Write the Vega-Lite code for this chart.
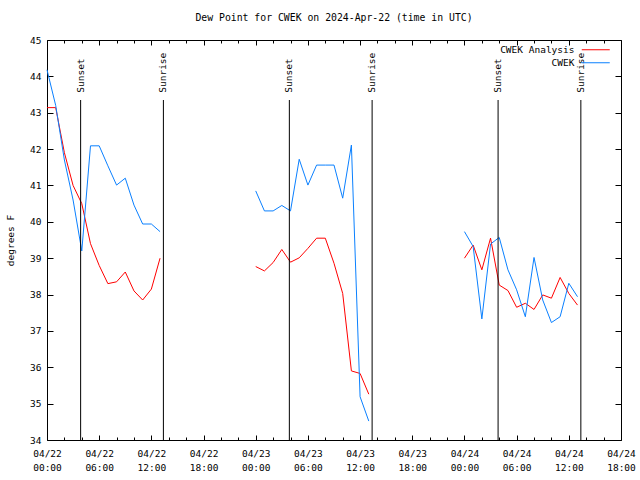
{
  "$schema": "https://vega.github.io/schema/vega-lite/v6.json",
  "width": 574,
  "height": 400,
  "autosize": {"type": "none"},
  "padding": {"left": 47, "top": 40, "right": 19, "bottom": 40},
  "title": {"text": "Dew Point for CWEK on 2024-Apr-22 (time in UTC)", "anchor": "middle", "font": "DejaVu Sans Mono", "fontSize": 9.8, "fontWeight": "normal", "color": "#000", "offset": 12},
  "config": {
    "font": "DejaVu Sans Mono",
    "view": {"stroke": "#000", "strokeWidth": 1},
    "axis": {"labelFont": "DejaVu Sans Mono", "labelFontSize": 9.5, "labelColor": "#000", "tickColor": "#000", "domain": false, "grid": false, "titleFont": "DejaVu Sans Mono", "titleFontSize": 9.5, "titleFontWeight": "normal", "titleColor": "#000"}
  },
  "datasets": {
    "obs": [
      {"t": "2024-04-22T00:00:00Z", "CWEK Analysis": 43.14, "CWEK": 44.18, "g": 1},
      {"t": "2024-04-22T01:00:00Z", "CWEK Analysis": 43.14, "CWEK": 43.2, "g": 1},
      {"t": "2024-04-22T02:00:00Z", "CWEK Analysis": 41.9, "CWEK": 41.7, "g": 1},
      {"t": "2024-04-22T03:00:00Z", "CWEK Analysis": 41.0, "CWEK": 40.6, "g": 1},
      {"t": "2024-04-22T04:00:00Z", "CWEK Analysis": 40.5, "CWEK": 39.2, "g": 1},
      {"t": "2024-04-22T05:00:00Z", "CWEK Analysis": 39.4, "CWEK": 42.09, "g": 1},
      {"t": "2024-04-22T06:00:00Z", "CWEK Analysis": 38.8, "CWEK": 42.09, "g": 1},
      {"t": "2024-04-22T07:00:00Z", "CWEK Analysis": 38.3, "CWEK": 41.54, "g": 1},
      {"t": "2024-04-22T08:00:00Z", "CWEK Analysis": 38.35, "CWEK": 41.01, "g": 1},
      {"t": "2024-04-22T09:00:00Z", "CWEK Analysis": 38.62, "CWEK": 41.2, "g": 1},
      {"t": "2024-04-22T10:00:00Z", "CWEK Analysis": 38.1, "CWEK": 40.46, "g": 1},
      {"t": "2024-04-22T11:00:00Z", "CWEK Analysis": 37.85, "CWEK": 39.94, "g": 1},
      {"t": "2024-04-22T12:00:00Z", "CWEK Analysis": 38.15, "CWEK": 39.94, "g": 1},
      {"t": "2024-04-22T13:00:00Z", "CWEK Analysis": 39.0, "CWEK": 39.73, "g": 1},
      {"t": "2024-04-23T00:00:00Z", "CWEK Analysis": 38.77, "CWEK": 40.85, "g": 2},
      {"t": "2024-04-23T01:00:00Z", "CWEK Analysis": 38.65, "CWEK": 40.3, "g": 2},
      {"t": "2024-04-23T02:00:00Z", "CWEK Analysis": 38.88, "CWEK": 40.3, "g": 2},
      {"t": "2024-04-23T03:00:00Z", "CWEK Analysis": 39.24, "CWEK": 40.45, "g": 2},
      {"t": "2024-04-23T04:00:00Z", "CWEK Analysis": 38.89, "CWEK": 40.3, "g": 2},
      {"t": "2024-04-23T05:00:00Z", "CWEK Analysis": 39.01, "CWEK": 41.72, "g": 2},
      {"t": "2024-04-23T06:00:00Z", "CWEK Analysis": 39.27, "CWEK": 41.01, "g": 2},
      {"t": "2024-04-23T07:00:00Z", "CWEK Analysis": 39.55, "CWEK": 41.56, "g": 2},
      {"t": "2024-04-23T08:00:00Z", "CWEK Analysis": 39.55, "CWEK": 41.56, "g": 2},
      {"t": "2024-04-23T09:00:00Z", "CWEK Analysis": 38.86, "CWEK": 41.56, "g": 2},
      {"t": "2024-04-23T10:00:00Z", "CWEK Analysis": 38.03, "CWEK": 40.65, "g": 2},
      {"t": "2024-04-23T11:00:00Z", "CWEK Analysis": 35.9, "CWEK": 42.11, "g": 2},
      {"t": "2024-04-23T12:00:00Z", "CWEK Analysis": 35.83, "CWEK": 35.19, "g": 2},
      {"t": "2024-04-23T13:00:00Z", "CWEK Analysis": 35.26, "CWEK": 34.52, "g": 2},
      {"t": "2024-04-24T00:00:00Z", "CWEK Analysis": 39.0, "CWEK": 39.73, "g": 3},
      {"t": "2024-04-24T01:00:00Z", "CWEK Analysis": 39.36, "CWEK": 39.32, "g": 3},
      {"t": "2024-04-24T02:00:00Z", "CWEK Analysis": 38.68, "CWEK": 37.33, "g": 3},
      {"t": "2024-04-24T03:00:00Z", "CWEK Analysis": 39.55, "CWEK": 39.39, "g": 3},
      {"t": "2024-04-24T04:00:00Z", "CWEK Analysis": 38.26, "CWEK": 39.57, "g": 3},
      {"t": "2024-04-24T05:00:00Z", "CWEK Analysis": 38.11, "CWEK": 38.68, "g": 3},
      {"t": "2024-04-24T06:00:00Z", "CWEK Analysis": 37.65, "CWEK": 38.13, "g": 3},
      {"t": "2024-04-24T07:00:00Z", "CWEK Analysis": 37.76, "CWEK": 37.39, "g": 3},
      {"t": "2024-04-24T08:00:00Z", "CWEK Analysis": 37.59, "CWEK": 39.02, "g": 3},
      {"t": "2024-04-24T09:00:00Z", "CWEK Analysis": 37.99, "CWEK": 37.85, "g": 3},
      {"t": "2024-04-24T10:00:00Z", "CWEK Analysis": 37.9, "CWEK": 37.23, "g": 3},
      {"t": "2024-04-24T11:00:00Z", "CWEK Analysis": 38.47, "CWEK": 37.39, "g": 3},
      {"t": "2024-04-24T12:00:00Z", "CWEK Analysis": 38.03, "CWEK": 38.31, "g": 3},
      {"t": "2024-04-24T13:00:00Z", "CWEK Analysis": 37.71, "CWEK": 37.94, "g": 3}
    ],
    "sun": [
      {"t": "2024-04-22T03:52:00Z", "label": "Sunset"},
      {"t": "2024-04-22T13:23:00Z", "label": "Sunrise"},
      {"t": "2024-04-23T03:52:00Z", "label": "Sunset"},
      {"t": "2024-04-23T13:23:00Z", "label": "Sunrise"},
      {"t": "2024-04-24T03:52:00Z", "label": "Sunset"},
      {"t": "2024-04-24T13:23:00Z", "label": "Sunrise"}
    ]
  },
  "resolve": {"axis": {"x": "independent", "y": "independent"}},
  "layer": [
    {
      "data": {"name": "obs"},
      "transform": [{"fold": ["CWEK Analysis", "CWEK"], "as": ["series", "v"]}],
      "mark": {"type": "line", "strokeWidth": 1},
      "encoding": {
        "x": {"field": "t", "type": "temporal",
          "scale": {"type": "utc", "nice": false, "domain": [1713744000000, 1713981600000]},
          "axis": {"orient": "bottom", "title": null,
            "values": [1713744000000, 1713751200000, 1713758400000, 1713765600000, 1713772800000, 1713780000000, 1713787200000, 1713794400000, 1713801600000, 1713808800000, 1713816000000, 1713823200000, 1713830400000, 1713837600000, 1713844800000, 1713852000000, 1713859200000, 1713866400000, 1713873600000, 1713880800000, 1713888000000, 1713895200000, 1713902400000, 1713909600000, 1713916800000, 1713924000000, 1713931200000, 1713938400000, 1713945600000, 1713952800000, 1713960000000, 1713967200000, 1713974400000, 1713981600000],
            "labelOverlap": false, "labelFlush": false,
            "labelExpr": "utchours(datum.value) % 6 === 0 ? [utcFormat(datum.value, '%m/%d'), utcFormat(datum.value, '%H:%M')] : ''",
            "tickSize": {"condition": {"test": "utchours(datum.value) % 6 === 0", "value": -5}, "value": -3},
            "labelPadding": 13, "labelBaseline": "top", "labelLineHeight": 14}},
        "y": {"field": "v", "type": "quantitative",
          "scale": {"domain": [34, 45], "nice": false, "zero": false},
          "axis": {"orient": "left", "title": "degrees F", "values": [34, 35, 36, 37, 38, 39, 40, 41, 42, 43, 44, 45], "tickSize": -6, "labelPadding": 12, "titlePadding": 14}},
        "color": {"field": "series", "type": "nominal",
          "scale": {"domain": ["CWEK Analysis", "CWEK"], "range": ["#ff0000", "#0a80ff"]},
          "legend": {"orient": "none", "legendX": 544, "legendY": 5, "title": null, "symbolType": "M-7,0H7", "symbolSize": 16, "symbolStrokeWidth": 1, "labelAlign": "right", "labelOffset": -26, "labelFont": "DejaVu Sans Mono", "labelFontSize": 9.5, "labelColor": "#000", "rowPadding": 2, "padding": 0}},
        "detail": {"field": "g", "type": "nominal"}
      }
    },
    {
      "data": {"name": "sun"},
      "mark": {"type": "rule", "color": "#000", "strokeWidth": 1},
      "encoding": {
        "x": {"field": "t", "type": "temporal", "scale": {"type": "utc"},
          "axis": {"orient": "top", "title": null, "labels": false,
            "values": [1713744000000, 1713751200000, 1713758400000, 1713765600000, 1713772800000, 1713780000000, 1713787200000, 1713794400000, 1713801600000, 1713808800000, 1713816000000, 1713823200000, 1713830400000, 1713837600000, 1713844800000, 1713852000000, 1713859200000, 1713866400000, 1713873600000, 1713880800000, 1713888000000, 1713895200000, 1713902400000, 1713909600000, 1713916800000, 1713924000000, 1713931200000, 1713938400000, 1713945600000, 1713952800000, 1713960000000, 1713967200000, 1713974400000, 1713981600000],
            "tickSize": {"condition": {"test": "utchours(datum.value) % 6 === 0", "value": -5}, "value": -3}}},
        "y": {"datum": 34, "type": "quantitative", "axis": {"orient": "right", "title": null, "labels": false, "values": [34, 35, 36, 37, 38, 39, 40, 41, 42, 43, 44, 45], "tickSize": -6}},
        "y2": {"datum": 43.35}
      }
    },
    {
      "data": {"name": "sun"},
      "mark": {"type": "text", "angle": 270, "align": "left", "baseline": "middle", "font": "DejaVu Sans Mono", "fontSize": 9.5, "color": "#000"},
      "encoding": {
        "x": {"field": "t", "type": "temporal", "scale": {"type": "utc"}, "axis": null},
        "y": {"datum": 43.55, "type": "quantitative", "axis": null},
        "text": {"field": "label"}
      }
    }
  ]
}
